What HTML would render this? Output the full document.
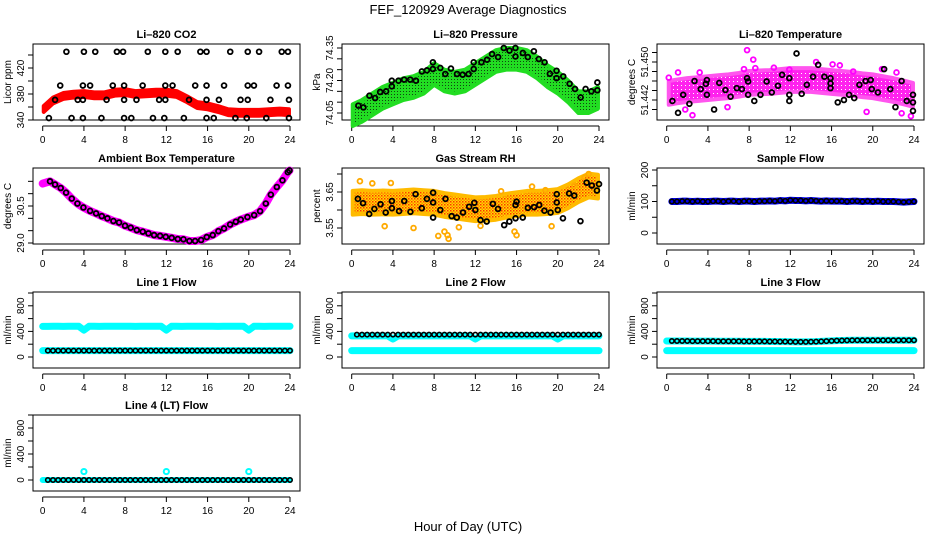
<!DOCTYPE html>
<html><head><meta charset="utf-8"><style>
html,body{margin:0;padding:0;background:#fff;}
svg{display:block;font-family:"Liberation Sans",sans-serif;}
</style></head><body>
<svg id="chart" width="936" height="540" viewBox="0 0 936 540">
<defs>
<pattern id="pGreen" width="3" height="3" patternUnits="userSpaceOnUse"><rect width="3" height="3" fill="#22dd22"/><rect x="1" y="1" width="1" height="1" fill="#114411"/></pattern>
<pattern id="pRH" width="3" height="3" patternUnits="userSpaceOnUse"><rect width="3" height="3" fill="#ffdd00"/><rect x="0" y="0" width="1.5" height="1.5" fill="#ff3300"/><rect x="1.5" y="1.5" width="1.5" height="1.5" fill="#ff8800"/></pattern>
<pattern id="pMag" width="4" height="4" patternUnits="userSpaceOnUse"><rect width="4" height="4" fill="#ff22ee"/><rect x="1" y="1" width="1" height="1" fill="#ffffff"/></pattern>
</defs>
<text x="468" y="14" font-size="13" text-anchor="middle">FEF_120929  Average Diagnostics</text>
<text x="468" y="531" font-size="13" text-anchor="middle">Hour of Day (UTC)</text>
</svg>
<script>
// ---------- DATA ----------
const xTicks=[0,4,8,12,16,20,24];
const halfHours=[0.5,1,1.5,2,2.5,3,3.5,4,4.5,5,5.5,6,6.5,7,7.5,8,8.5,9,9.5,10,10.5,11,11.5,12,12.5,13,13.5,14,14.5,15,15.5,16,16.5,17,17.5,18,18.5,19,19.5,20,20.5,21,21.5,22,22.5,23,23.5,24];
const bandHours=[0,1,2,3,4,5,6,7,8,9,10,11,12,13,14,15,16,17,18,19,20,21,22,23,24];

// CO2
const co2BandC=[357,370,377,379,380,378,378,382,383,380,381,382,382,380,372,363,361,357,352,351,351,351,352,353,352];
const co2Hours=[2.3,4.0,5.1,7.2,7.8,10.2,11.9,13.1,15.3,15.9,18.2,19.9,21.0,23.2,23.8,1.7,3.9,4.6,6.8,7.9,9.7,11.9,12.6,14.8,15.9,17.6,19.9,20.5,22.7,23.8,1.2,3.4,3.9,6.2,7.9,9.1,11.3,11.9,14.2,15.9,17.1,19.2,19.9,22.1,23.9,0.6,2.8,3.9,5.7,7.9,8.6,10.7,11.8,13.7,15.9,16.6,18.7,19.8,21.7,23.9];
const co2Vals=[445,445,445,445,445,445,445,445,445,445,445,445,445,445,445,393,393,393,393,393,393,393,393,393,393,393,393,393,393,393,371,371,371,371,371,371,371,371,371,371,371,371,371,371,371,343,343,343,343,343,343,343,343,343,343,343,343,343,343,343];

// Pressure
const presBandC=[74.04,74.06,74.09,74.12,74.14,74.16,74.17,74.19,74.23,74.20,74.19,74.20,74.23,74.26,74.29,74.30,74.30,74.29,74.26,74.22,74.19,74.15,74.10,74.10,74.12];
const presHours=[0.65,1.14,1.72,2.27,2.76,3.34,3.89,3.89,4.54,5.09,5.68,6.23,6.81,7.30,7.88,7.88,8.60,9.08,9.63,10.22,10.77,11.35,11.84,11.84,12.59,13.14,13.62,14.21,14.76,15.31,15.89,15.89,16.61,17.09,17.68,18.16,18.72,19.23,19.88,19.88,20.53,21.15,21.67,22.22,22.70,23.26,23.84,23.84];
const presVals=[74.084,74.076,74.130,74.119,74.147,74.150,74.173,74.199,74.199,74.204,74.204,74.199,74.242,74.247,74.284,74.253,74.258,74.230,74.255,74.230,74.227,74.230,74.284,74.253,74.284,74.296,74.322,74.308,74.350,74.338,74.350,74.311,74.327,74.308,74.335,74.299,74.284,74.231,74.245,74.211,74.219,74.185,74.161,74.122,74.161,74.150,74.191,74.155];

// Li-820 temperature
const ltBandC=[51.4435,51.4438,51.4441,51.4443,51.4445,51.4447,51.4449,51.4452,51.4456,51.4457,51.4458,51.4460,51.4462,51.4462,51.4462,51.4460,51.4458,51.4456,51.4454,51.4451,51.4449,51.4445,51.4441,51.4436,51.4431];
const ltHours=[0.55,1.1,1.6,2.2,2.7,3.3,3.8,3.9,3.9,4.6,5.1,5.7,6.2,6.8,7.3,7.8,7.9,7.9,8.5,9.1,9.7,10.2,10.8,11.2,11.9,11.9,11.9,12.6,13.1,13.6,14.2,14.7,15.3,15.9,15.9,15.9,16.6,17.2,17.7,18.2,18.7,19.3,19.8,19.9,20.5,21.1,21.7,22.2,22.8,23.3,23.9,23.9,23.9];
const ltVals=[51.4418,51.4393,51.4431,51.4412,51.4460,51.4443,51.4454,51.4462,51.4431,51.4400,51.4456,51.4441,51.4427,51.4445,51.4443,51.4466,51.4459,51.4431,51.4418,51.4431,51.4459,51.4436,51.4450,51.4473,51.4466,51.4431,51.4418,51.4518,51.4433,51.4452,51.4469,51.4494,51.4469,51.4466,51.4455,51.4445,51.4415,51.4420,51.4431,51.4424,51.4452,51.4460,51.4462,51.4443,51.4436,51.4485,51.4443,51.4405,51.4460,51.4418,51.4415,51.4431,51.4397];
const ltOutH=[0.2,1.1,1.8,2.5,3.2,5.9,7.5,7.8,8.4,8.6,10.4,11.9,14.5,16.1,16.8,18.1,19.4,20.9,22.3,22.8,23.7];
const ltOutV=[51.4467,51.4478,51.4400,51.4388,51.4478,51.4405,51.4485,51.4525,51.4505,51.4487,51.4488,51.4484,51.4500,51.4495,51.4493,51.4480,51.4395,51.4485,51.4478,51.4392,51.4386];

// Ambient box temperature
const ambHours=[0,0.71,1.2,1.75,2.27,2.82,3.37,3.95,4.6,5.18,5.73,6.28,6.86,7.41,7.99,8.54,9.13,9.71,10.26,10.81,11.39,11.94,12.52,13.11,13.66,14.24,14.79,15.37,15.92,16.5,17.05,17.6,18.19,18.74,19.22,19.87,20.52,21.1,21.65,22.14,22.72,23.27,23.79,23.95];
const ambVals=[31.41,31.50,31.37,31.23,31.04,30.80,30.60,30.44,30.30,30.20,30.09,30.00,29.89,29.83,29.70,29.62,29.52,29.46,29.39,29.32,29.29,29.25,29.21,29.16,29.15,29.08,29.08,29.12,29.24,29.32,29.48,29.59,29.75,29.86,29.95,30.05,30.13,30.29,30.60,30.96,31.27,31.54,31.87,31.94];

// Gas stream RH
const rhBandC=[3.620,3.622,3.620,3.621,3.620,3.622,3.624,3.622,3.620,3.614,3.610,3.606,3.602,3.603,3.606,3.612,3.616,3.620,3.620,3.622,3.625,3.638,3.655,3.668,3.665];
const rhHours=[0.6,1.1,1.7,2.2,2.8,3.3,3.9,3.9,4.6,5.1,5.7,6.2,6.8,7.3,7.9,7.9,7.9,8.6,9.1,9.7,10.2,10.8,11.4,11.9,12.0,12.5,13.1,13.7,14.2,14.8,15.3,15.9,15.9,16.0,16.6,17.1,17.7,18.2,18.7,19.3,19.9,19.9,20.0,20.5,21.1,21.6,22.2,22.8,23.3,23.8,24.0];
const rhVals=[3.631,3.619,3.589,3.603,3.616,3.593,3.625,3.605,3.597,3.625,3.595,3.644,3.605,3.631,3.648,3.621,3.579,3.600,3.631,3.583,3.579,3.593,3.609,3.620,3.600,3.572,3.568,3.617,3.603,3.558,3.568,3.577,3.614,3.623,3.579,3.606,3.608,3.614,3.598,3.593,3.644,3.621,3.600,3.577,3.646,3.640,3.569,3.676,3.668,3.654,3.672];
const rhOutH=[0.8,2.0,3.8,3.2,6.0,8.4,9.0,9.3,9.4,10.4,12.5,14.5,15.8,16.0,17.5,18.8,19.4,21.6,22.6,23.0];
const rhOutV=[3.680,3.674,3.675,3.555,3.550,3.528,3.540,3.530,3.520,3.552,3.556,3.652,3.540,3.530,3.665,3.655,3.555,3.668,3.690,3.700];

// Flows
const sampleVals=[100,100,101,101,100,101,100,100,101,101,100,101,101,100,101,101,100,101,101,102,101,103,102,104,103,103,102,103,102,101,102,101,101,101,100,101,101,100,101,100,101,100,100,100,99,98,99,100];
const line1Hi=[478,480,480,479,480,481,480,420,480,480,479,480,480,481,480,480,480,479,480,481,480,480,480,420,480,480,479,480,480,481,480,480,480,479,480,480,480,480,480,420,480,480,479,480,480,481,480,480];
const line1Blk=[100,100,100,100,100,100,100,100,100,100,100,100,100,100,100,100,100,100,100,100,100,100,100,100,100,100,100,100,100,100,100,100,100,100,100,100,100,100,100,100,100,100,100,100,100,100,100,100];
const line2Cyan=[330,330,332,330,331,330,330,280,330,331,330,330,332,330,330,330,331,330,330,330,330,332,330,280,330,330,331,330,330,330,332,330,330,330,331,330,330,330,330,280,330,331,330,330,330,332,330,330];
const line2Blk=[350,350,350,350,350,350,350,350,350,350,350,350,350,350,350,350,350,350,350,350,350,350,350,350,350,350,350,350,350,350,350,350,350,350,350,350,350,350,350,350,350,350,350,350,350,350,350,350];
const line3Blk=[250,250,250,250,248,248,248,248,248,246,246,246,246,246,244,244,244,244,244,242,242,240,240,238,236,236,236,238,240,244,248,252,256,258,260,262,262,262,262,262,262,262,262,262,262,262,262,262];
const lowCyan=[100,100,100,100,100,100,100,100,100,100,100,100,100,100,100,100,100,100,100,100,100,100,100,100,100,100,100,100,100,100,100,100,100,100,100,100,100,100,100,100,100,100,100,100,100,100,100,100];
const line4Blk=[0,0,0,0,0,0,0,0,0,0,0,0,0,0,0,0,0,0,0,0,0,0,0,0,0,0,0,0,0,0,0,0,0,0,0,0,0,0,0,0,0,0,0,0,0,0,0,0];
const line4SpikeH=[4,12,20];
const line4SpikeV=[130,130,130];

// ---------- DRAWING ----------
const NS="http://www.w3.org/2000/svg";
const svg=document.getElementById('chart');
const COLS=[33,342,657], ROWS=[44,168,292,415], W=267, H=76;
function el(tag,attrs,parent){const e=document.createElementNS(NS,tag);for(const k in attrs)e.setAttribute(k,attrs[k]);(parent||svg).appendChild(e);return e;}
function xs(c,h){return COLS[c]+9.7+h*(247.3/24);}
function mkY(r,v1,p1,v2,p2){return v=>ROWS[r]+p1+(v-v1)*(p2-p1)/(v2-v1);}

function panel(c,r,name,title,ylab,ys,ticks,labels){
  const g=el('g',{});
  
  
  const L=COLS[c],T=ROWS[r];
  const box=el('rect',{x:L,y:T,width:W,height:H,fill:'none',stroke:'#000','stroke-width':1},g);
  
  
  const t=el('text',{x:L+W/2,y:T-6,'font-size':11,'font-weight':'bold','text-anchor':'middle'},g);
  t.textContent=title;
  
  
  const xa=el('g',{},g);
  
  
  const ay=T+H+6;
  el('line',{x1:xs(c,0),x2:xs(c,24),y1:ay,y2:ay,stroke:'#000'},xa);
  xTicks.forEach(v=>{const x=xs(c,v);el('line',{x1:x,x2:x,y1:ay,y2:ay+5,stroke:'#000'},xa);
    const tl=el('text',{x:x,y:ay+17,'font-size':10,'text-anchor':'middle'},xa);tl.textContent=v;
    
    });
  const ya=el('g',{},g);
  
  
  ticks.forEach(v=>{const y=ys(v);el('line',{x1:L-5,x2:L,y1:y,y2:y,stroke:'#000'},ya);});
  labels.forEach(v=>{const y=ys(v[0]);const tl=el('text',{x:L-9,y:y,'font-size':10,'text-anchor':'middle',transform:`rotate(-90 ${L-9} ${y})`},ya);tl.textContent=v[1];
    
    });
  const yl=el('text',{x:L-22,y:T+H/2,'font-size':10,'text-anchor':'middle',transform:`rotate(-90 ${L-22} ${T+H/2})`},g);
  yl.textContent=ylab;
  
  
  return g;
}
function band(c,ys,hours,centers,hw,color,name,h0,h1,stroke){
  const up=[],lo=[];
  hours.forEach((h,i)=>{let hh=Math.max(h0,Math.min(h1,h));up.push([xs(c,hh),ys(centers[i]+hw)]);lo.push([xs(c,hh),ys(centers[i]-hw)]);});
  const pts=up.concat(lo.reverse()).map(p=>p.join(',')).join(' ');
  const p=el('polygon',{points:pts,fill:color,stroke:stroke||color,'stroke-width':4,'stroke-linejoin':'round'});
  
  
}
function pts(c,ys,hours,vals,color,name,r,sw){
  const g=el('g',{});
  
  
  hours.forEach((h,i)=>{const ci=el('circle',{cx:xs(c,h),cy:ys(vals[i]),r:r||2.4,fill:'none',stroke:color,'stroke-width':sw||1.8},g);
    
    });
}
function thick(c,ys,hours,vals,color,w,name){
  const d=hours.map((h,i)=>xs(c,h)+','+ys(vals[i])).join(' ');
  const p=el('polyline',{points:d,fill:'none',stroke:color,'stroke-width':w,'stroke-linejoin':'round','stroke-linecap':'round'});
  
  
}

// Panel 1 CO2
let y=mkY(0,340,76,440,11);
panel(0,0,'co2','Li\u2013820 CO2','Licor ppm',y,[340,360,380,400,420,440],[[340,'340'],[380,'380'],[420,'420']]);
band(0,y,bandHours,co2BandC,4.5,'#ff0000','co2-band',0.1,23.9);
pts(0,y,co2Hours,co2Vals,'#000','co2-hourly');

// Panel 2 pressure
y=mkY(0,74.05,69,74.35,4);
panel(1,0,'pressure','Li\u2013820 Pressure','kPa',y,[74.05,74.10,74.15,74.20,74.25,74.30,74.35],[[74.05,'74.05'],[74.20,'74.20'],[74.35,'74.35']]);
band(1,y,bandHours,presBandC,0.05,'url(#pGreen)','pressure-band',0.1,23.9,'#22dd22');
pts(1,y,presHours,presVals,'#000','pressure-hourly');

// Panel 3 Li temp
y=mkY(0,51.442,56,51.450,18);
panel(2,0,'li-temp','Li\u2013820 Temperature','degrees C',y,[51.440,51.442,51.444,51.446,51.448,51.450,51.452],[[51.442,'51.442'],[51.450,'51.450']]);
band(2,y,bandHours,ltBandC,0.0025,'url(#pMag)','li-temp-band',0.2,23.9,'#ff55ee');
pts(2,y,ltOutH,ltOutV,'#ff00ff','li-temp-outliers');
pts(2,y,ltHours,ltVals,'#000','li-temp-hourly');

// Panel 4 ambient
y=mkY(1,29.0,75,30.5,38);
panel(0,1,'ambient','Ambient Box Temperature','degrees C',y,[29.0,29.5,30.0,30.5,31.0,31.5],[[29.0,'29.0'],[30.5,'30.5']]);
thick(0,y,ambHours,ambVals,'#ff00ff',8,'ambient-band');
pts(0,y,ambHours.slice(1),ambVals.slice(1),'#000','ambient-hourly');

// Panel 5 RH
y=mkY(1,3.55,60,3.65,24);
panel(1,1,'rh','Gas Stream RH','percent',y,[3.55,3.60,3.65,3.70],[[3.55,'3.55'],[3.65,'3.65']]);
band(1,y,bandHours,rhBandC,0.033,'url(#pRH)','rh-band',0.1,23.9,'#ffbb00');
pts(1,y,rhOutH,rhOutV,'#ffaa00','rh-outliers');
pts(1,y,rhHours,rhVals,'#000','rh-hourly');

// Panel 6 sample flow
y=mkY(1,0,65,200,2);
panel(2,1,'sample-flow','Sample Flow','ml/min',y,[0,50,100,150,200],[[0,'0'],[100,'100'],[200,'200']]);
thick(2,y,halfHours,sampleVals,'#0000ee',7,'sample-flow-band');
pts(2,y,halfHours,sampleVals,'#000','sample-flow-hourly',2.2,1.6);

const flowTicks=[0,200,400,600,800,1000], flowLabels=[[0,'0'],[400,'400'],[800,'800']];
// Line 1
y=mkY(2,0,65,1000,1);
panel(0,2,'line1','Line 1 Flow','ml/min',y,flowTicks,flowLabels);
thick(0,y,[0].concat(halfHours),[478].concat(line1Hi),'#00ffff',7,'line1-high-band');
thick(0,y,[0].concat(halfHours),[100].concat(lowCyan),'#00ffff',7,'line1-low-band');
pts(0,y,halfHours,line1Blk,'#000','line1-hourly',2.2,1.6);
// Line 2
panel(1,2,'line2','Line 2 Flow','ml/min',y,flowTicks,flowLabels);
thick(1,y,[0].concat(halfHours),[330].concat(line2Cyan),'#00ffff',7,'line2-mid-band');
thick(1,y,[0].concat(halfHours),[100].concat(lowCyan),'#00ffff',7,'line2-low-band');
pts(1,y,halfHours,line2Blk,'#000','line2-hourly',2.2,1.6);
// Line 3
panel(2,2,'line3','Line 3 Flow','ml/min',y,flowTicks,flowLabels);
thick(2,y,[0].concat(halfHours),[100].concat(lowCyan),'#00ffff',7,'line3-low-band');
thick(2,y,[0,0.4],[250,250],'#00ffff',7,'line3-start-band');
thick(2,y,halfHours,line3Blk,'#00ffff',7,'line3-band');
pts(2,y,halfHours,line3Blk,'#000','line3-hourly',2.2,1.6);
// Line 4
y=mkY(3,0,65,1000,0);
panel(0,3,'line4','Line 4 (LT) Flow','ml/min',y,flowTicks,flowLabels);
thick(0,y,[0].concat(halfHours),[0].concat(line4Blk),'#00ffff',6,'line4-band');
pts(0,y,line4SpikeH,line4SpikeV,'#00ffff','line4-spikes',2.6,2);
pts(0,y,halfHours,line4Blk,'#000','line4-hourly',2.2,1.6);
</script>
</body></html>
